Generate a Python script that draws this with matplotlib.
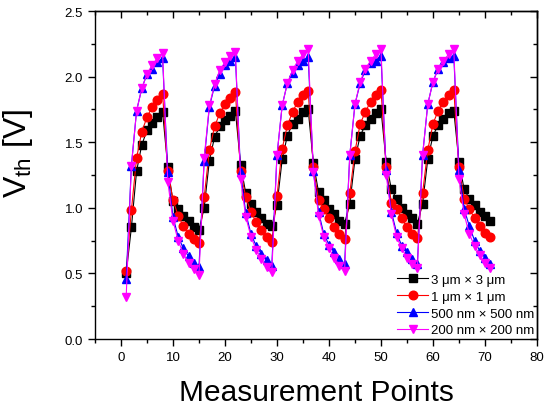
import numpy as np
import matplotlib
matplotlib.use("Agg")
import matplotlib.pyplot as plt
from matplotlib.ticker import MultipleLocator, FormatStrFormatter

plt.rcParams["font.family"] = ["Liberation Sans", "DejaVu Sans"]

# Messpunkte 1..71
x = np.arange(1, 72)

v_3um = [0.50, 0.85, 1.28, 1.48, 1.59, 1.65, 1.69, 1.73,
         1.31, 1.05, 0.99, 0.94, 0.90, 0.85, 0.83,
         1.00, 1.36, 1.54, 1.62, 1.67, 1.70, 1.74,
         1.33, 1.11, 1.03, 0.97, 0.92, 0.88, 0.86,
         1.02, 1.37, 1.55, 1.64, 1.68, 1.73, 1.75,
         1.34, 1.12, 1.06, 0.99, 0.95, 0.90, 0.88,
         1.03, 1.37, 1.55, 1.63, 1.68, 1.72, 1.75,
         1.35, 1.14, 1.07, 1.00, 0.95, 0.92, 0.88,
         1.03, 1.37, 1.55, 1.63, 1.68, 1.72, 1.74,
         1.35, 1.14, 1.07, 1.02, 0.97, 0.94, 0.90]

v_1um = [0.52, 0.98, 1.38, 1.58, 1.69, 1.77, 1.82, 1.87,
         1.28, 1.06, 0.94, 0.86, 0.80, 0.76, 0.73,
         1.08, 1.44, 1.62, 1.72, 1.79, 1.84, 1.88,
         1.28, 1.08, 0.97, 0.89, 0.83, 0.78, 0.74,
         1.09, 1.45, 1.63, 1.73, 1.81, 1.86, 1.89,
         1.31, 1.06, 0.99, 0.92, 0.85, 0.80, 0.76,
         1.11, 1.43, 1.64, 1.73, 1.81, 1.86, 1.90,
         1.31, 1.04, 0.99, 0.92, 0.85, 0.80, 0.77,
         1.11, 1.44, 1.64, 1.74, 1.81, 1.86, 1.90,
         1.31, 1.07, 0.99, 0.92, 0.86, 0.81, 0.78]

v_500nm = [0.46, 1.32, 1.74, 1.91, 2.02, 2.06, 2.11, 2.14,
           1.27, 0.93, 0.78, 0.69, 0.63, 0.58, 0.55,
           1.36, 1.77, 1.93, 2.02, 2.09, 2.12, 2.15,
           1.27, 0.96, 0.80, 0.71, 0.65, 0.60, 0.56,
           1.40, 1.78, 1.95, 2.03, 2.09, 2.12, 2.15,
           1.28, 0.97, 0.80, 0.72, 0.66, 0.61, 0.57,
           1.40, 1.79, 1.95, 2.05, 2.10, 2.12, 2.16,
           1.29, 0.97, 0.81, 0.71, 0.66, 0.61, 0.57,
           1.40, 1.79, 1.96, 2.06, 2.11, 2.14, 2.16,
           1.29, 0.99, 0.86, 0.75, 0.67, 0.62, 0.57]

v_200nm = [0.32, 1.32, 1.74, 1.91, 2.02, 2.09, 2.14, 2.18,
           1.20, 0.90, 0.75, 0.65, 0.58, 0.53, 0.49,
           1.38, 1.78, 1.94, 2.05, 2.11, 2.16, 2.19,
           1.22, 0.93, 0.78, 0.68, 0.61, 0.55, 0.51,
           1.40, 1.78, 1.95, 2.05, 2.12, 2.17, 2.21,
           1.27, 0.94, 0.78, 0.69, 0.62, 0.56, 0.52,
           1.40, 1.79, 1.96, 2.06, 2.12, 2.17, 2.21,
           1.25, 0.95, 0.78, 0.69, 0.62, 0.57, 0.54,
           1.40, 1.79, 1.96, 2.06, 2.12, 2.17, 2.21,
           1.22, 0.95, 0.80, 0.71, 0.64, 0.58, 0.54]

labels = ["3 μm × 3 μm", "1 μm × 1 μm", "500 nm × 500 nm", "200 nm × 200 nm"]

fig = plt.figure(figsize=(5.5, 4.1), dpi=100)
ax = fig.add_axes([0.1727, 0.1707, 0.8036, 0.8])

ax.plot(x, v_3um, "s-", color="black", ms=5.5, lw=0.8, label=labels[0])
ax.plot(x, v_1um, "o-", color="red", ms=6.2, lw=0.8, label=labels[1])
ax.plot(x, v_500nm, "^-", color="blue", ms=6.2, lw=0.8, label=labels[2])
ax.plot(x, v_200nm, "v-", color="magenta", ms=6.2, lw=0.8, label=labels[3])

ax.set_xlim(-5, 80)
ax.set_ylim(0, 2.5)
ax.xaxis.set_major_locator(MultipleLocator(10))
ax.xaxis.set_minor_locator(MultipleLocator(5))
ax.yaxis.set_major_locator(MultipleLocator(0.5))
ax.yaxis.set_minor_locator(MultipleLocator(0.25))
ax.yaxis.set_major_formatter(FormatStrFormatter("%.1f"))

# unten/links nach außen, oben/rechts nach innen
ax.tick_params(which="both", direction="out", labelsize=9.5, width=1)
ax.tick_params(which="major", length=5)
ax.tick_params(which="minor", length=3)
ax2 = ax.secondary_xaxis("top")
ax2.xaxis.set_major_locator(MultipleLocator(10))
ax2.xaxis.set_minor_locator(MultipleLocator(5))
ax2.tick_params(which="both", direction="in", labeltop=False, width=1)
ax2.tick_params(which="major", length=5)
ax2.tick_params(which="minor", length=3)
ax3 = ax.secondary_yaxis("right")
ax3.yaxis.set_major_locator(MultipleLocator(0.5))
ax3.yaxis.set_minor_locator(MultipleLocator(0.25))
ax3.tick_params(which="both", direction="in", labelright=False, width=1)
ax3.tick_params(which="major", length=5)
ax3.tick_params(which="minor", length=3)
for s in ax.spines.values():
    s.set_linewidth(1)
ax2.spines["top"].set_linewidth(1)
ax3.spines["right"].set_linewidth(1)

ax.set_xlabel("Measurement Points", fontsize=21.5, labelpad=11)
ax.set_ylabel(r"V$_{\mathregular{th}}$ [V]", fontsize=23)
ax.yaxis.set_label_coords(-0.135, 0.568)

ax.legend(loc="lower right", frameon=False, fontsize=9.5, handlelength=2.4,
          handletextpad=0.2, labelspacing=0.35, borderaxespad=0.1,
          borderpad=0.1)

fig.savefig("out.png", dpi=100)
